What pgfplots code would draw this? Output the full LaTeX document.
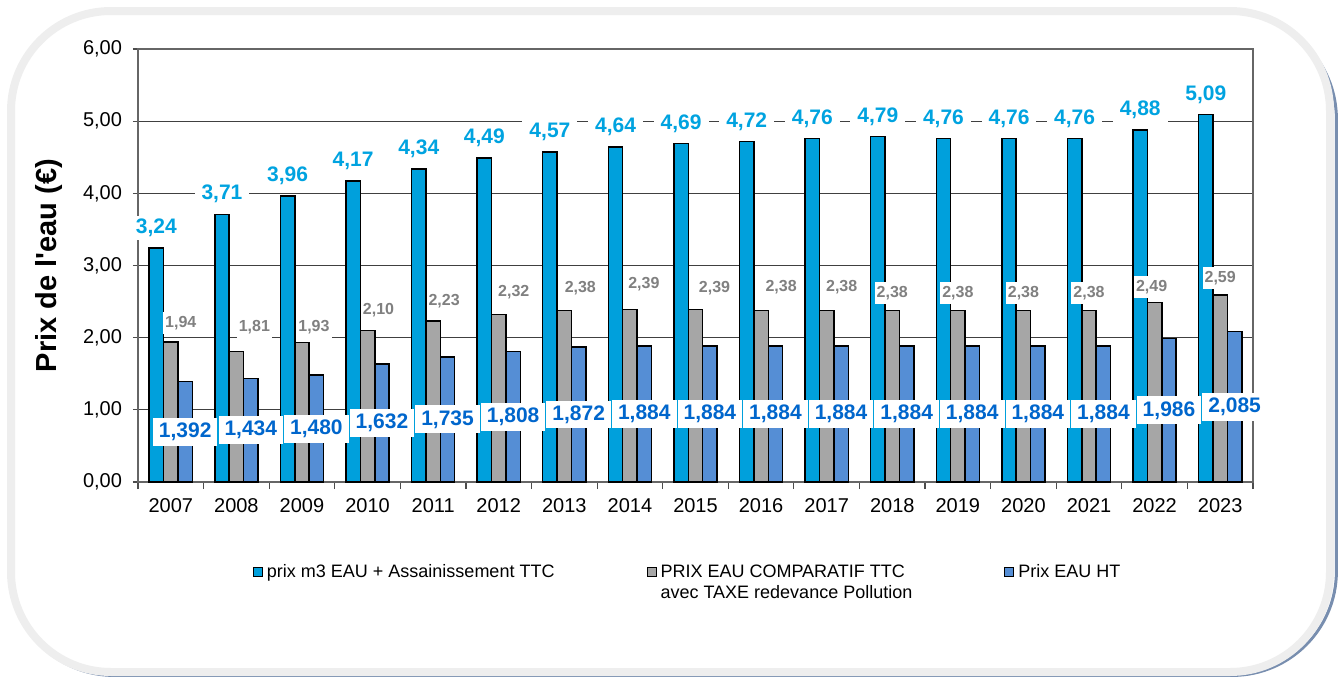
\documentclass[border=0pt]{standalone}
\usepackage{pgfplots}
\pgfplotsset{compat=1.18}
\usepackage{pgfplotstable}
\usepackage{fontspec}
\setmainfont{Liberation Sans}
\definecolor{ttc}{RGB}{0,160,220}
\definecolor{comp}{RGB}{166,166,166}
\definecolor{ht}{RGB}{85,142,213}
\definecolor{ttclab}{RGB}{0,163,224}
\definecolor{htlab}{RGB}{0,102,204}
\definecolor{complab}{RGB}{128,128,128}
\definecolor{band}{RGB}{238,238,238}
\definecolor{shadowc}{RGB}{120,142,175}

\pgfplotstableread{
x y
0 3.24
1 3.71
2 3.96
3 4.17
4 4.34
5 4.49
6 4.57
7 4.64
8 4.69
9 4.72
10 4.76
11 4.79
12 4.76
13 4.76
14 4.76
15 4.88
16 5.09
}\ttctab

\pgfplotstableread{
x y dx dy
0 1.94 5 9.5
1 1.81 9 12
2 1.93 6 8
3 2.10 5.5 10
4 2.23 5.5 10
5 2.32 7.5 11
6 2.38 8 11
7 2.39 7 12.5
8 2.39 9.5 10.5
9 2.38 10 11.5
10 2.38 7.5 11.5
11 2.38 0 8.5
12 2.38 0 8.5
13 2.38 0 8.5
14 2.38 0 8.5
15 2.49 -1.5 7.5
16 2.59 0 8.5
}\comptab

\pgfplotstableread{
x y
0 1.392
1 1.434
2 1.480
3 1.632
4 1.735
5 1.808
6 1.872
7 1.884
8 1.884
9 1.884
10 1.884
11 1.884
12 1.884
13 1.884
14 1.884
15 1.986
16 2.085
}\httab

\begin{document}
\begin{tikzpicture}
\useasboundingbox (0pt,0pt) rectangle (669.5pt,338.5pt);
\draw[shadowc, line width=1.5pt, rounded corners=52pt] (5pt,0.8pt) rectangle (668.2pt,331pt);
\draw[band, fill=white, line width=4pt, rounded corners=50pt] (5.5pt,2.5pt) rectangle (665pt,333pt);
\begin{axis}[
  at={(69pt,97.5pt)}, anchor=south west,
  scale only axis, width=557.5pt, height=216.5pt,
  xmin=-0.5, xmax=16.5, ymin=0, ymax=6,
  ybar=0pt, bar width=7.2pt,
  xtick={0,1,...,16},
  xticklabels={2007,2008,2009,2010,2011,2012,2013,2014,2015,2016,2017,2018,2019,2020,2021,2022,2023},
  minor xtick={-0.5,0.5,...,16.5},
  ytick={0,1,...,6},
  tick pos=left,
  tick align=outside,
  major tick length=2.5pt, minor tick length=3.5pt,
  major x tick style={draw=none},
  minor x tick style={draw=black!70, line width=0.6pt},
  major y tick style={draw=black!70, line width=0.6pt},
  ymajorgrids, xmajorgrids=false,
  major grid style={black!75, line width=0.5pt},
  axis line style={black!60, line width=0.7pt},
  /pgf/number format/assume math mode=true,
  tick label style={font=\fontsize{10}{12}\selectfont},
  xticklabel style={yshift=-2pt},
  yticklabel style={xshift=-2pt, /pgf/number format/.cd, fixed, fixed zerofill, precision=2, use comma, /tikz/.cd},
  ylabel={Prix de l\textquotesingle eau (€)},
  every axis y label/.style={at={(axis description cs:-0.0800,0.5)}, rotate=90, anchor=center, font=\bfseries\fontsize{14.5}{16}\selectfont},
  legend columns=3,
  legend style={at={(rel axis cs:0.1031,-0.1831)}, anchor=north west, draw=none, fill=none, inner sep=0pt, outer sep=0pt,
    font=\fontsize{9}{10.5}\selectfont,
    nodes={inner xsep=1pt, inner ysep=1pt},
    cells={anchor=base west},
    /tikz/every odd column/.append style={column sep=1pt},
    /tikz/every even column/.append style={column sep=45pt}},
  legend image code/.code={\draw[#1,/tikz/.cd,draw=black,line width=0.5pt] (0pt,0.5pt) rectangle (4.5pt,5pt);},
]
\addplot[fill=ttc, draw=black, line width=0.75pt,
  nodes near coords={\pgfmathprintnumber[fixed,fixed zerofill,precision=2,use comma]{\pgfplotspointmeta}},
  every node near coord/.append style={anchor=center, yshift=10pt, fill=white, text=ttclab, inner xsep=3.5pt, inner ysep=1.5pt, font=\bfseries\fontsize{10.5}{12}\selectfont}]
  table[x=x,y=y]{\ttctab};
\addlegendentry{prix m3 EAU + Assainissement TTC}
\addplot[fill=comp, draw=black, line width=0.75pt,
  visualization depends on={\thisrow{dx} \as \dxv},
  visualization depends on={\thisrow{dy} \as \dyv},
  nodes near coords={\pgfmathprintnumber[fixed,fixed zerofill,precision=2,use comma]{\pgfplotspointmeta}},
  every node near coord/.append style={anchor=center, xshift=\dxv, yshift=\dyv, fill=white, text=complab, inner xsep=1pt, inner ysep=2pt, font=\bfseries\fontsize{8}{10}\selectfont}]
  table[x=x,y=y]{\comptab};
\addlegendentry{\begin{tabular}[t]{@{}l@{}}PRIX EAU COMPARATIF TTC\\avec TAXE redevance Pollution\end{tabular}}
\addplot[fill=ht, draw=black, line width=0.75pt,
  visualization depends on={\thisrow{y} \as \rawy},
  nodes near coords={\pgfmathprintnumber[fixed,fixed zerofill,precision=3,use comma]{\pgfplotspointmeta}},
  every node near coord/.append style={anchor=center, yshift={-18.0417*\rawy}, fill=white, text=htlab, inner xsep=3pt, inner ysep=2.5pt, font=\bfseries\fontsize{10.5}{12}\selectfont}]
  table[x=x,y=y]{\httab};
\addlegendentry{Prix EAU HT}
\end{axis}
\end{tikzpicture}
\end{document}
